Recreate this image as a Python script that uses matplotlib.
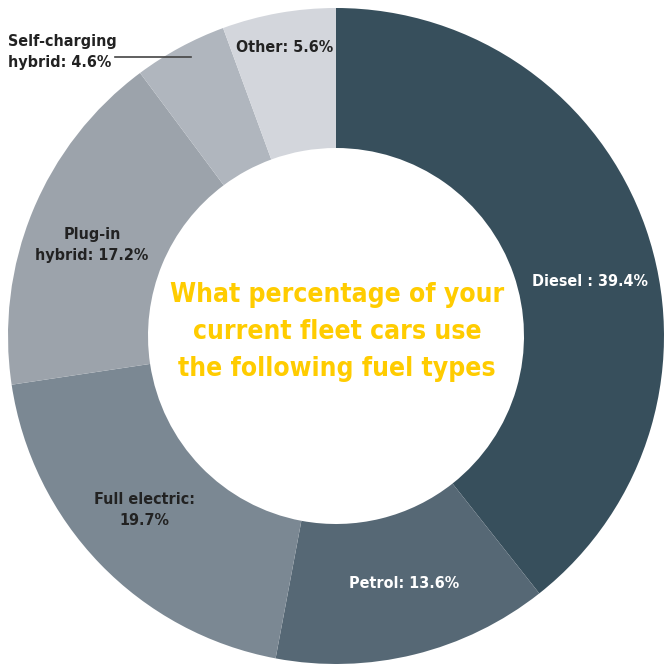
import matplotlib.pyplot as plt

# share of fleet cars per fuel type, clockwise from 12 o'clock
fuel_types = ["Diesel", "Petrol", "Full electric", "Plug-in hybrid",
              "Self-charging hybrid", "Other"]
shares = [39.4, 13.6, 19.7, 17.2, 4.6, 5.6]
labels = ["Diesel : 39.4%", "Petrol: 13.6%", "Full electric:\n19.7%",
          "Plug-in\nhybrid: 17.2%", "Self-charging\nhybrid: 4.6%", "Other: 5.6%"]
colors = ["#374f5c", "#566875", "#7b8893", "#9ca3ab", "#b0b6be", "#d3d6dc"]
text_colors = ["white", "white", "#222222", "#222222", "#222222", "#222222"]

FONT = ["DejaVu Sans"]
STRETCH = "condensed"

fig = plt.figure(figsize=(6.64, 6.64), dpi=100)
ax = fig.add_axes([0, 0, 1, 1])
R = 328.0  # px per data unit

ax.pie(shares, colors=colors, startangle=90, counterclock=False,
       radius=1.0, wedgeprops=dict(width=(328 - 188) / R, linewidth=0))


def px(x, y):
    return (x - 336) / R, (336 - y) / R


label_pos = [(590, 281), (404, 583), (144, 510), (92, 245), (8, 52), (285, 48)]
for i, (lab, (x, y)) in enumerate(zip(labels, label_pos)):
    ha = "left" if fuel_types[i] == "Self-charging hybrid" else "center"
    ax.text(*px(x, y), lab, ha=ha, va="center", fontsize=11.5,
            fontweight="bold", color=text_colors[i], family=FONT,
            fontstretch=STRETCH, linespacing=1.45)

# leader line for the small self-charging slice
x0, y0 = px(115, 57)
x1, y1 = px(191, 57)
ax.plot([x0, x1], [y0, y1], color="#444444", lw=1.2)

ax.text(*px(337, 332), "What percentage of your\ncurrent fleet cars use\nthe following fuel types",
        ha="center", va="center", fontsize=19, fontweight="bold",
        color="#ffcc00", family=FONT, fontstretch=STRETCH, linespacing=1.55)

ax.set_xlim(-336 / R, (664 - 336) / R)
ax.set_ylim(-(664 - 336) / R, 336 / R)
ax.set_aspect("equal")
ax.axis("off")
fig.savefig("out.png", dpi=100, facecolor="white")
